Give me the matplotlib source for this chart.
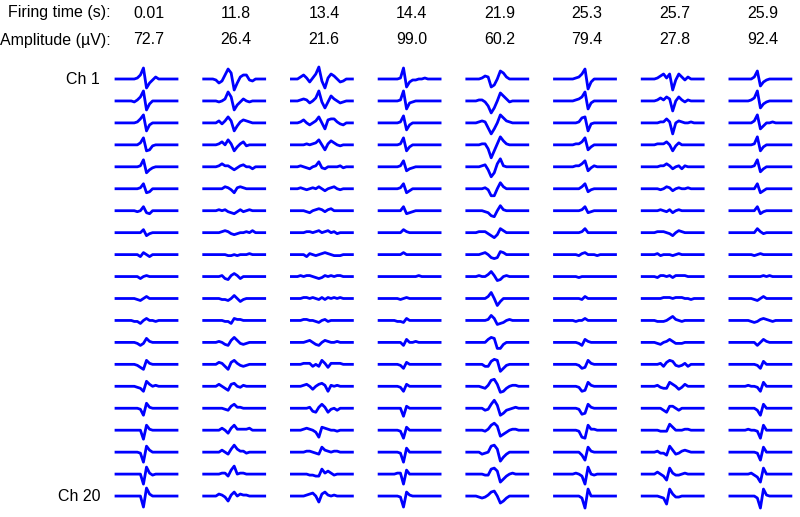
import matplotlib.pyplot as plt
import numpy as np

plt.rcParams['font.family'] = ['Liberation Sans', 'DejaVu Sans']

# header values
firing_times = ['0.01', '11.8', '13.4', '14.4', '21.9', '25.3', '25.7', '25.9']
amplitudes = ['72.7', '26.4', '21.6', '99.0', '60.2', '79.4', '27.8', '92.4']
channel_labels = {0: 'Ch 1', 19: 'Ch 20'}

# waveform samples per unit, 20 channels x 17 samples (pixel units, up = positive)
c1 = [
    [0, 0, 0, 0, 0, 1, 4, 11, -9, -4, -1, 2, 0, 0, 0, 0, 0],
    [0, 0, 0, 0, -1, 1, 4, 10, -9, -3, 0, 0, 0, 0, 0, 0, 0],
    [0, 0, 0, 0, 0, 1, 4, 8, -8, -2, 0, 0, 0, 0, 0, 0, 0],
    [0, 0, 0, 0, 0, 0, 2, 7, -6, -5, -1, 0, 0, 0, 0, 0, 0],
    [0, 0, 0, 0, 0, 0, 1, 7, -6, -3, -1, 0, 0, 0, 0, 0, 0],
    [0, 0, 0, 0, 0, 0, 1, 5, -4, -3, 0, 0, 0, 0, 0, 0, 0],
    [0, 0, 0, 0, 0, -1, 0, 4, -2, -3, 0, 0, 0, 0, 0, 0, 0],
    [0, 0, 0, 0, 0, 0, 0, 3, -3, -1, 0, 0, 0, 0, 0, 0, 0],
    [0, 0, 0, 0, 0, 0, -2, 2, 0, -2, 0, 0, 0, 0, 0, 0, 0],
    [0, 0, 0, 0, 0, 0, -2, 0, 1, 0, 0, 0, 0, 0, 0, 0, 0],
    [0, 0, 0, 0, 0, -1, -2, 0, 2, 0, 0, 0, 0, 0, 0, 0, 0],
    [0, 0, 0, 0, -1, -1, -3, 0, 2, 0, 0, -1, 0, 0, 0, 0, 0],
    [0, 0, 0, 0, 0, -1, -3, -1, 4, 1, 0, 0, 0, 0, 0, 0, 0],
    [0, 0, 0, 0, 0, -1, -3, -5, 4, 1, 0, 0, 0, 0, 0, 0, 0],
    [0, 0, 0, 0, 0, -1, -2, -5, 5, 2, 0, 1, 0, 0, 0, 0, 0],
    [0, 0, 0, 0, 0, 0, -1, -7, 5, 1, 0, 0, 0, 0, 0, 0, 0],
    [0, 0, 0, 0, 0, 0, 0, -9, 5, 1, 0, 0, 0, 0, 0, 0, 0],
    [0, 0, 0, 0, 0, 0, -1, -10, 6, 2, 0, 0, 0, 0, 0, 0, 0],
    [0, 0, 0, 0, 0, 0, 0, -10, 7, 1, -1, 0, 0, 0, 0, 0, 0],
    [0, 0, 0, 0, 0, 0, 0, -11, 8, 2, 0, 0, 0, 0, 0, 0, 0],
]
c2 = [
    [0, 0, -1, -4, -2, 4, 10, 6, -11, -4, 2, 4, 4, -1, -2, 0, 0],
    [0, 0, 0, -1, 0, 2, 9, 4, -9, -4, -1, 2, 0, -1, 0, 0, 0],
    [0, 0, 0, 2, -1, 2, 6, 2, -8, -3, 1, 3, 2, 1, 0, 0, 0],
    [0, 0, 0, 1, 3, 0, 5, 1, -6, -2, 1, 3, -1, 0, 0, 0, 0],
    [0, 0, 0, 1, 3, 1, 1, -1, -3, -1, 1, 2, 0, 0, -2, 0, 0],
    [0, 0, 0, 0, 0, 2, 1, -1, -4, 1, 2, 1, 0, 0, 0, 0, 0],
    [0, 0, 0, 1, 0, 1, -1, -2, -3, -1, 1, -1, 0, 1, 0, 0, 0],
    [0, 0, 0, 0, 1, 2, 1, -1, -2, -1, 0, 0, 1, 0, 2, 0, 0],
    [0, 0, 0, 0, 0, 0, -1, -1, 0, -1, 0, 0, 0, 1, 0, 0, 0],
    [0, 0, 0, 0, 1, -2, -3, 1, 3, 1, -2, 0, 0, 0, 0, 0, 0],
    [0, 0, 0, 0, -1, -1, -2, 0, 3, 0, -3, -1, 0, 0, 0, 0, 0],
    [0, 0, 0, 0, 0, -1, -1, -3, 2, 1, 1, 0, 0, 0, 0, 0, 0],
    [0, 0, 0, 1, 0, -2, -3, 2, 5, 2, -1, -2, -1, 0, 0, 0, 0],
    [0, 0, 0, 2, 1, -2, -5, 2, 4, 1, -1, -2, -1, 0, 0, 0, 0],
    [0, 0, 0, 2, 0, -2, -4, 2, 3, 0, -1, 1, 0, 0, 0, 0, 0],
    [0, 0, 0, 0, 0, -1, -2, 2, 4, 1, 1, 0, 0, 0, 0, 0, 0],
    [0, 0, 0, 0, 2, 0, -3, 2, 5, 1, 1, 1, 1, 2, 0, 0, 0],
    [0, 0, 0, 0, 2, 0, -2, 3, 7, 3, 1, 1, -1, 0, 0, 0, 0],
    [0, 0, 0, 0, 1, 1, -2, 4, 8, 0, 1, 1, 0, 0, 0, 0, 0],
    [0, 0, 0, 2, 1, -1, -5, 1, 4, 0, 2, 1, 1, 0, 0, 0, 0],
]
c3 = [
    [0, 2, 4, 1, -3, 1, 5, 12, -2, -9, 1, 5, 3, 0, -3, -2, 0],
    [0, 1, 2, 1, -2, 0, 3, 10, -1, -7, -1, 5, 2, 0, -2, -1, 0],
    [0, 1, 3, 0, -2, 0, 2, 6, 0, -6, 3, 4, 4, 1, -1, -2, 0],
    [0, 0, 0, 1, 0, 1, 2, 5, 0, -5, 1, 4, 2, 0, -1, 0, 0],
    [0, 1, 0, -1, -2, 0, 1, 5, -1, -2, 0, 0, 0, 0, 1, -1, 0],
    [0, 1, 0, -1, 0, 1, 0, 2, 0, -2, 0, 1, 2, 0, -1, 0, 0],
    [0, 0, 0, -1, -2, 0, 1, 2, 1, -1, 1, 2, 0, 0, 0, 0, 0],
    [0, 0, 0, 1, 1, 0, 1, 2, 0, 1, 2, 0, 1, -1, 0, 0, 0],
    [0, 0, 0, -2, 1, 0, -1, 0, 1, 2, 1, 0, -1, -1, -1, 0, 0],
    [0, 1, 0, 1, 1, 0, -1, -2, -1, 1, 0, 1, 0, 1, 1, 0, 0],
    [0, 0, 1, 1, 0, 1, 0, -1, 1, -1, 1, 0, 1, 0, 1, 0, 0],
    [0, 0, 1, 1, 0, 0, -1, -2, 0, 1, -1, 0, 0, 0, 0, 0, 0],
    [0, 0, 0, 1, 2, 0, -2, -3, 0, 2, 1, 0, 0, 1, 0, 0, 0],
    [0, 0, 1, 1, 1, -2, 0, -2, 4, 1, -3, 1, 1, 1, 1, 0, 0],
    [0, 0, 1, 2, 0, -3, 0, 2, 3, 1, -5, 1, 0, 1, 0, 0, 0],
    [0, 0, 0, 0, 1, -3, -4, 1, 4, 1, -4, -1, 0, -2, 0, 0, 0],
    [0, 0, 1, 2, 1, 0, -2, -7, 3, 2, 1, 0, 0, -1, 0, 0, 0],
    [0, 0, 0, 1, 1, 0, -1, -2, 5, 2, 1, 0, 1, 1, 0, 0, 0],
    [0, 0, 0, 0, -1, -1, -2, -2, 5, 1, 3, 1, -1, 0, 0, 0, 0],
    [0, 0, 0, 1, 2, 3, 0, -6, 2, 4, 1, 0, 1, 0, 0, 0, 0],
]
c4 = [
    [0, 0, 0, 0, 0, 1, 11, -8, -3, -1, -1, 0, 0, 1, 0, 0, 0],
    [0, 0, 0, 0, 0, 1, 10, -8, -2, -1, 0, 0, 0, 0, 0, 0, 0],
    [0, 0, 0, 0, 0, 1, 7, -7, -2, 0, 0, 0, 0, 0, 0, 0, 0],
    [0, 0, 0, 0, 0, 1, 7, -6, -2, 0, 0, 0, 0, 0, 0, 0, 0],
    [0, 0, 0, 0, 0, 1, 6, -4, -2, -1, 0, 0, 0, 0, 0, 0, 0],
    [0, 0, 0, 0, 0, 1, 5, -4, -2, 0, 0, 0, 0, 0, 0, 0, 0],
    [0, 0, 0, 0, 0, 0, 4, -3, -2, -1, 0, 0, 0, 0, 0, 0, 0],
    [0, 0, 0, 0, 0, 0, 3, 1, 0, 0, 0, 0, 0, 0, 0, 0, 0],
    [0, 0, 0, 0, 0, 0, 2, 0, 0, 0, 0, 0, 0, 0, 0, 0, 0],
    [0, 0, 0, 0, 0, 0, 0, 0, 0, 0, 0, 1, 0, 0, 0, 0, 0],
    [0, 0, 0, 0, 0, -1, 0, 1, 0, 0, 0, 0, 0, 0, 0, 0, 0],
    [0, 0, 0, 0, -1, -1, -2, 2, 0, 0, 0, 0, 0, 0, 0, 0, 0],
    [0, 0, 0, 0, 0, 0, -3, 3, 0, 0, 1, 0, 0, 0, 0, 0, 0],
    [0, 0, 0, 0, 0, -1, -4, 2, 0, 0, 0, 0, 0, 0, 0, 0, 0],
    [0, 0, 0, 0, 0, -1, -5, 2, 0, 0, 0, 0, 0, 0, 0, 0, 0],
    [0, 0, 0, 0, 0, 0, -8, 2, 0, 0, 0, 0, 0, 0, 0, 0, 0],
    [0, 0, 0, 0, 0, -1, -8, 3, 0, 0, 0, 0, 0, 0, 0, 0, 0],
    [0, 0, 0, 0, 0, -1, -10, 4, 0, 0, 0, 0, 0, 0, 0, 0, 0],
    [0, 0, 0, 0, 1, 1, -10, 4, 0, 0, 0, 0, 0, 0, 0, 0, 0],
    [0, 0, 0, 0, 0, -1, -11, 4, 1, 0, 0, 0, 0, 0, 0, 0, 0],
]
c5 = [
    [0, 0, 0, 1, 3, 2, -8, -6, 0, 8, 6, 2, 0, 0, 0, 0, 0],
    [0, 0, 1, 1, -1, -5, -12, -7, 0, 8, 5, 2, -1, 0, 0, 0, 0],
    [0, 0, 1, 2, 1, -5, -11, -6, 0, 8, 5, 2, 1, 0, 0, 0, 0],
    [0, 0, 0, 1, 1, -4, -13, -6, 1, 8, 4, 1, 0, 0, 0, 0, 0],
    [0, 0, 0, 1, 2, -3, -10, -6, 3, 8, 1, 0, 0, 0, 0, 0, 0],
    [0, 0, 0, 0, 1, -1, -7, -7, 0, 6, 2, 0, 0, 0, 0, 0, 0],
    [0, 0, 0, 0, -1, -2, -5, -6, 0, 5, 1, 0, 0, 0, 0, 0, 0],
    [0, 0, 1, 1, 1, -1, -3, -5, -2, 4, 2, 0, 0, 0, 0, 0, 0],
    [0, 0, 0, 1, 2, 0, -3, -4, -3, 3, 2, 0, 0, 0, 0, 0, 0],
    [0, 0, 1, 0, 0, 2, 5, 1, -4, -3, 0, 1, 0, 0, 0, 0, 0],
    [0, 0, 0, 0, 0, 2, 6, 0, -7, -3, 0, 0, 0, 0, 0, 0, 0],
    [0, 0, 0, 0, 0, 1, 5, 2, -4, -3, -2, 0, 1, 0, 0, 0, 0],
    [0, 0, 0, 0, 0, 3, 5, 4, -6, -6, -2, 0, 0, 0, 0, 0, 0],
    [0, 0, 0, 0, -2, -2, 3, 5, 4, -7, -4, -1, 0, 0, 0, 0, 0],
    [0, 0, 0, -1, -2, 1, 6, 7, 2, -6, -5, -2, 0, 1, 1, 0, 0],
    [0, 0, 0, 0, -2, -1, 4, 8, 3, -7, -5, -2, -1, 0, 1, 0, 0],
    [0, 0, 0, 0, -1, 1, 5, 7, 4, -6, -4, -2, 0, 1, 1, 0, 0],
    [0, 0, 0, -2, -1, 0, 6, 7, 3, -9, -5, -2, 0, 0, 0, 0, 0],
    [0, 0, 0, 0, -1, -1, 5, 6, 3, -8, -5, -2, 0, 1, 0, 0, 0],
    [0, 0, -1, -2, -1, 1, 4, 5, 0, -7, -5, -2, 0, 0, 0, 0, 0],
]
c6 = [
    [0, 0, 0, 0, 0, 1, 2, 5, 10, -10, -3, 0, 0, 0, 0, 0, 0],
    [0, 0, 0, 0, 0, 1, 2, 4, 9, -8, -2, 0, 0, 0, 0, 0, 0],
    [0, 0, 0, 0, 0, 0, 1, 5, 6, -8, -1, 0, 0, 0, 0, 0, 0],
    [0, 0, 0, 0, 0, 1, 1, 3, 7, -5, -2, 0, 0, 0, 0, 0, 0],
    [0, 0, 0, 0, 0, 1, 1, 3, 6, -4, -1, 1, 0, 0, 0, 0, 0],
    [0, 0, 0, 0, 0, 0, 0, 2, 5, -3, -1, 0, 0, 0, 0, 0, 0],
    [0, 0, 0, 0, 0, 0, 0, 1, 4, -2, -1, 0, 0, 0, 0, 0, 0],
    [0, 0, 0, 0, 0, 0, 0, 1, 4, 0, 0, 0, 0, 0, 0, 0, 0],
    [0, 0, 0, 0, 0, 0, -1, 1, 2, 0, 0, 0, -1, 0, 0, 0, 0],
    [0, 0, 0, 0, 0, 0, -1, 0, 0, 0, 0, 0, 0, 0, 0, 0, 0],
    [0, 0, 0, 0, 0, 0, 0, -1, 2, 0, 0, 0, 0, 0, 0, 0, 0],
    [0, 0, 0, 0, 0, -1, 0, 0, 2, 0, 0, 0, 0, 0, 0, 0, 0],
    [0, 0, 0, 0, 0, 0, -1, -3, 3, 1, 0, 0, 0, 0, 0, 0, 0],
    [0, 0, 0, 0, 0, 0, -1, -4, -3, 4, 1, 0, 0, 0, 0, 0, 0],
    [0, 0, 0, 0, 0, 0, -1, -5, -4, 4, 1, 0, 0, 0, 0, 0, 0],
    [0, 0, 0, 0, 0, 0, -1, -6, -5, 4, 1, 0, 0, 0, 0, 0, 0],
    [0, 0, 0, 0, 0, 0, -1, -7, -8, 5, 1, 1, 0, 0, 0, 0, 0],
    [0, 0, 0, 0, 0, 0, 0, -3, -8, 5, 1, 0, 0, 0, 0, 0, 0],
    [0, 0, 0, 0, 0, 1, 0, -2, -10, 7, 0, -1, 0, 0, 0, 0, 0],
    [0, 0, 0, 0, 0, 0, 0, -2, -12, 7, 0, 0, 0, 0, 0, 0, 0],
]
c7 = [
    [0, 0, 0, 1, 3, 5, 1, 5, -11, -1, 5, 2, -1, 2, 0, 0, 0],
    [0, 0, 0, 1, 3, 1, 4, 2, -10, 0, 4, 1, -1, 1, 0, 0, 0],
    [0, 0, 0, 0, 1, 1, 4, 1, -11, 0, 2, 1, 0, 0, 1, 0, 0],
    [0, 0, 0, 1, 1, 1, 3, 0, -6, -1, 2, 0, 0, 0, 0, 0, 0],
    [0, 0, 0, 0, 1, 1, 3, 1, -2, 0, 1, -2, 1, 0, 0, 0, 0],
    [0, 0, 0, 0, -1, 0, 2, 1, -2, 0, 1, 0, 0, 1, 0, 0, 0],
    [0, 0, 0, 0, 1, 0, -1, 1, -2, 0, 1, 0, 0, 0, 0, 0, 0],
    [0, 0, 0, 1, 1, 1, 0, -1, -3, 0, 2, 1, 0, 0, 0, 0, 0],
    [0, 0, 0, 1, -1, 0, 0, 0, -1, 0, 1, 0, 0, 0, 0, 0, 0],
    [0, 0, 0, -1, 1, 1, 0, 1, -1, 1, 1, 1, 1, 0, 0, 0, 0],
    [0, 0, 0, 0, 0, 1, 1, 1, 0, 1, 1, 1, 0, 0, -1, 0, 0],
    [0, 0, 0, -1, -1, -1, 0, 2, 4, 1, 0, -1, 0, 0, 0, 0, 0],
    [0, 0, 0, -1, -2, 0, 1, 3, 1, -1, -1, -1, 0, 0, 0, 0, 0],
    [0, 0, 0, 0, 1, -2, 2, 4, 3, -1, -2, -1, 1, -2, 0, 0, 0],
    [0, 0, 0, 1, -1, -2, -2, 4, 2, 0, -3, -1, 2, 0, 0, 0, 0],
    [0, 0, 0, 0, 0, -2, -4, 2, 2, 0, -2, 0, 0, 0, 0, 0, 0],
    [0, 0, 0, 0, -1, -1, -1, 6, 3, 0, 0, 0, 1, 1, 0, 0, 0],
    [0, 0, 0, 1, -1, -1, -3, 6, 2, -2, -1, 1, 2, 1, 0, 0, 0],
    [0, 0, 0, 2, 0, -2, -6, 6, 1, -1, -1, 0, 1, 0, 0, 0, 0],
    [0, 0, 0, 0, -1, -2, -8, 7, 2, -1, -1, 0, 0, 0, 0, 0, 0],
]
c8 = [
    [0, 0, 0, 0, 0, 0, 2, 8, -7, -3, -1, 0, 0, 0, 0, 0, 0],
    [0, 0, 0, 0, 0, 1, 3, 10, -7, -3, -1, 0, 0, 0, 0, 0, 0],
    [0, 0, 0, 0, 0, 0, 2, 8, -6, -3, 0, 0, 1, 0, 0, 0, 0],
    [0, 0, 0, 0, 0, 0, 1, 8, -6, -2, 0, 0, 0, 0, 0, 0, 0],
    [0, 0, 0, 0, 0, 0, 1, 7, -5, -2, 0, 0, 0, 0, 0, 0, 0],
    [0, 0, 0, 0, 0, 0, 0, 5, -4, -2, 0, 0, 0, 0, 0, 0, 0],
    [0, 0, 0, 0, 0, 0, 0, 4, -3, -1, 0, 0, 0, 0, 0, 0, 0],
    [0, 0, 0, 0, 0, 0, 0, 4, 1, -1, 0, 0, 0, 0, 0, 0, 0],
    [0, 0, 0, 0, 0, 0, -1, 0, 1, 0, 0, 0, 0, 0, 0, 0, 0],
    [0, 0, 0, 0, 0, 0, 0, 0, 0, 1, 0, 1, 0, 0, 0, 0, 0],
    [0, 0, 0, 0, 0, 0, -1, -2, 0, 2, 0, 0, 0, 0, 0, 0, 0],
    [0, 0, 0, 0, 0, -1, -2, -1, 1, 2, 1, 0, -1, 0, 0, 0, 0],
    [0, 0, 0, 0, 0, 0, 0, -3, 0, 3, 1, 0, 0, 0, 0, 0, 0],
    [0, 0, 0, 0, 0, 0, 0, -1, -4, 3, 0, 0, 0, 0, 0, 0, 0],
    [0, 0, 0, 0, 1, 0, 0, -1, -5, 4, 0, 0, 0, 0, 0, 0, 0],
    [0, 0, 0, 0, 0, 0, 0, -2, -7, 4, 0, 0, 0, 0, 0, 0, 0],
    [0, 0, 0, 0, 1, 0, 0, -1, -8, 5, 0, 0, 0, 0, 0, 0, 0],
    [0, 0, 0, 0, 0, 0, 0, -1, -8, 5, 0, 0, 0, 0, 0, 0, 0],
    [0, 0, 0, 0, 0, 1, -1, -3, -8, 6, 0, 0, 0, 0, 0, 0, 0],
    [0, 0, 0, 0, 0, 0, 0, -2, -12, 7, 1, 0, 0, 0, 0, 0, 0],
]
units = [c1, c2, c3, c4, c5, c6, c7, c8]

# layout in pixels of the 800x517 canvas
col_left = 116
col_step = 87.7
col_width = 61
row_top = 79
row_step = 21.95

fig = plt.figure(figsize=(8, 5.17), dpi=100)
ax = fig.add_axes([0, 0, 1, 1])
ax.set_xlim(0, 800)
ax.set_ylim(517, 0)
ax.axis('off')

n = len(c1[0])
frac = np.concatenate([[0], 0.1 + 0.8 * np.arange(n) / (n - 1), [1]])

for k, unit in enumerate(units):
    x0 = col_left + k * col_step
    xs = x0 + frac * col_width
    for ch, wave in enumerate(unit):
        y0 = row_top + ch * row_step
        ys = y0 - np.concatenate([[0], wave, [0]])
        ax.plot(xs, ys, color='#0000ff', lw=2.0, solid_joinstyle='round')
    xc = x0 + col_width / 2 + 2
    ax.text(xc, 13, firing_times[k], ha='center', va='center', fontsize=11.5)
    ax.text(xc, 40, amplitudes[k], ha='center', va='center', fontsize=11.5)

ax.text(111, 13, 'Firing time (s):', ha='right', va='center', fontsize=11.5)
ax.text(111, 40, 'Amplitude (µV):', ha='right', va='center', fontsize=11.5)
for ch, lab in channel_labels.items():
    ax.text(100, row_top + ch * row_step, lab, ha='right', va='center', fontsize=11.5)

plt.savefig('out.png', dpi=100)
